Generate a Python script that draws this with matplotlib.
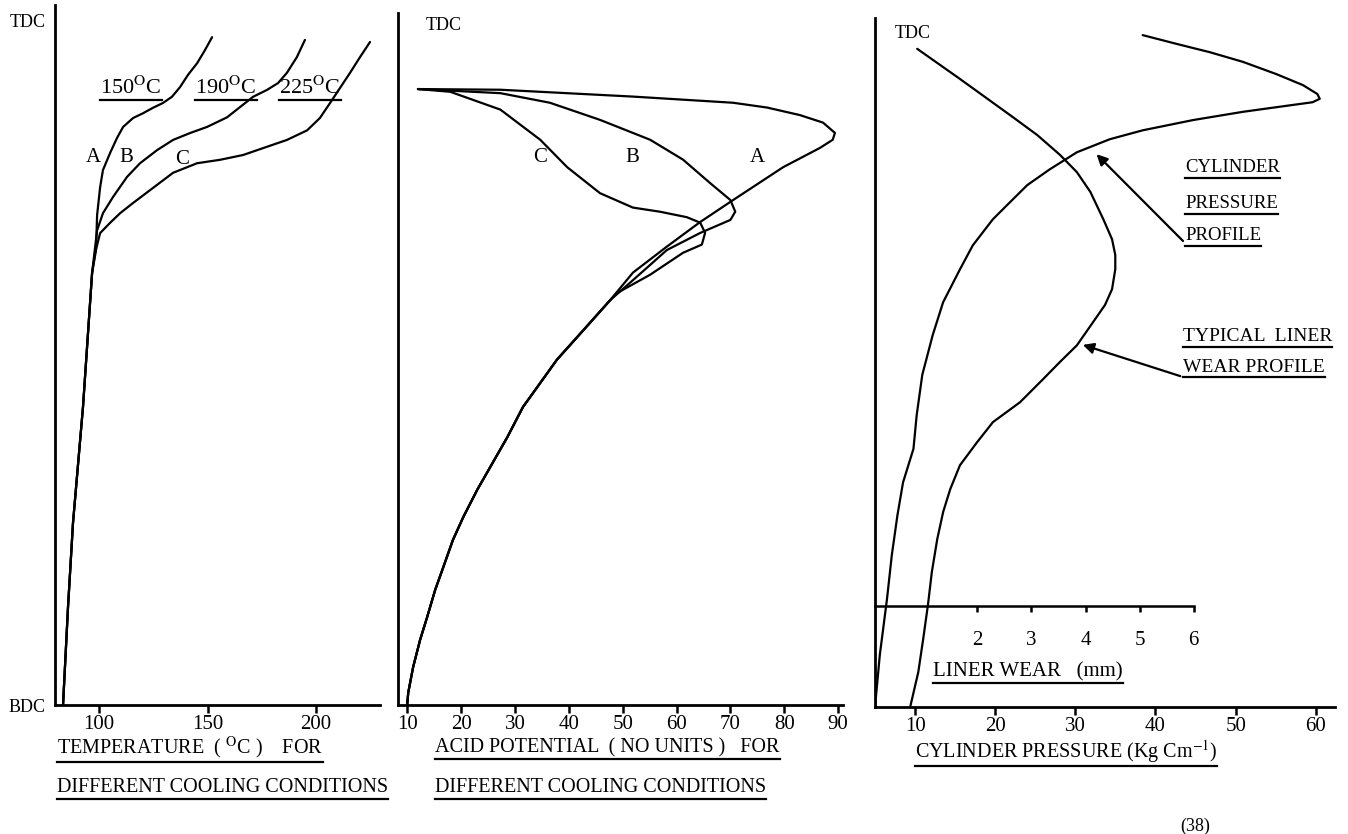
import matplotlib
matplotlib.use("Agg")
import matplotlib.pyplot as plt
from matplotlib.lines import Line2D

plt.rcParams['font.family'] = ['Liberation Serif', 'DejaVu Serif']
plt.rcParams['mathtext.fontset'] = 'stix'

# ---- panel 1: temperature, y = 0 (BDC) .. 1 (TDC)
temp_trunk_x = [83.4, 85.7, 88.0, 92.6, 96.8]
temp_trunk_y = [0.000, 0.143, 0.266, 0.435, 0.631]
temp_a_x = [98.6, 99.1, 100.5, 101.8, 105.1, 108.3, 111.1, 115.7, 120.3, 124.9, 129.5,
            133.6, 137.3, 141.0, 145.2, 148.8, 152.1]
temp_a_y = [0.664, 0.715, 0.756, 0.781, 0.806, 0.828, 0.844, 0.857, 0.864, 0.872, 0.879,
            0.888, 0.902, 0.920, 0.937, 0.956, 0.975]
temp_b_x = [99.1, 101.8, 106.5, 112.9, 118.9, 126.7, 134.1, 141.9, 149.8, 159.0, 165.0,
            171.0, 177.4, 182.5, 186.6, 191.2, 194.9]
temp_b_y = [0.693, 0.718, 0.742, 0.771, 0.791, 0.810, 0.825, 0.835, 0.844, 0.858, 0.873,
            0.888, 0.898, 0.908, 0.923, 0.946, 0.971]
temp_c_x = [98.2, 100.5, 105.1, 109.7, 115.7, 124.9, 134.1, 145.2, 155.8, 166.4, 177.4,
            186.6, 195.9, 201.8, 206.5, 211.1, 215.7, 220.3, 224.9]
temp_c_y = [0.660, 0.689, 0.704, 0.718, 0.733, 0.755, 0.777, 0.791, 0.796, 0.803, 0.815,
            0.825, 0.839, 0.857, 0.879, 0.901, 0.923, 0.946, 0.968]
temp_ticks = [100, 150, 200]

# ---- panel 2: acid potential
acid_trunk_x = [10.0, 10.2, 11.1, 12.4, 13.7, 15.2, 16.7, 18.5, 20.4, 23.0, 25.4, 28.6,
                31.5, 34.7, 37.8, 42.7, 47.7]
acid_trunk_y = [0.000, 0.018, 0.055, 0.095, 0.128, 0.168, 0.201, 0.241, 0.274, 0.314, 0.347, 0.391,
                0.435, 0.470, 0.504, 0.547, 0.591]
acid_a_x = [51.9, 58.2, 64.4, 70.5, 79.8, 86.6, 89.0, 89.4, 87.2, 82.9, 76.8, 70.5, 51.9, 27.3, 12.0]
acid_a_y = [0.631, 0.669, 0.705, 0.737, 0.785, 0.813, 0.825, 0.835, 0.850, 0.861, 0.872, 0.879, 0.888, 0.898, 0.899]
acid_b_x = [51.9, 58.2, 64.4, 70.0, 70.9, 70.0, 66.2, 61.2, 55.1, 45.8, 36.5, 27.3, 12.0]
acid_b_y = [0.620, 0.664, 0.689, 0.708, 0.720, 0.737, 0.762, 0.796, 0.825, 0.854, 0.879, 0.893, 0.899]
acid_c_x = [48.9, 55.1, 61.2, 64.7, 65.3, 64.4, 61.9, 56.9, 51.9, 45.8, 39.7, 34.7, 27.3, 18.0, 12.0]
acid_c_y = [0.601, 0.628, 0.660, 0.672, 0.689, 0.704, 0.712, 0.720, 0.726, 0.747, 0.785, 0.825, 0.869, 0.895, 0.899]
acid_ticks = [10, 20, 30, 40, 50, 60, 70, 80, 90]

# ---- panel 3: cylinder pressure and liner wear
pressure_x = [38.4, 42.7, 46.8, 50.9, 55.1, 58.4, 60.2, 60.5, 59.6, 57.1, 50.9, 44.7, 38.4,
              34.3, 30.2, 26.8, 24.0, 21.5, 19.7, 17.2, 15.6, 13.5, 12.2, 10.9, 10.2, 9.8,
              8.5, 7.8, 7.1, 6.5, 5.6, 5.0]
pressure_y = [0.981, 0.968, 0.956, 0.942, 0.924, 0.908, 0.895, 0.888, 0.883, 0.879, 0.869, 0.857, 0.842,
              0.829, 0.810, 0.785, 0.762, 0.733, 0.712, 0.674, 0.639, 0.591, 0.543, 0.485, 0.426, 0.377,
              0.328, 0.280, 0.222, 0.158, 0.076, 0.0]
wear_x = [0.89, 1.68, 2.61, 3.11, 3.53, 3.84, 4.09, 4.33, 4.49, 4.55, 4.55, 4.49, 4.36, 4.14,
          3.84, 3.53, 3.22, 2.79, 2.29, 2.00, 1.68, 1.50, 1.37, 1.26, 1.16, 1.09, 1.00, 0.91, 0.76]
wear_y = [0.961, 0.917, 0.864, 0.835, 0.806, 0.781, 0.752, 0.712, 0.683, 0.660, 0.639, 0.610, 0.587, 0.562,
          0.528, 0.504, 0.479, 0.445, 0.416, 0.387, 0.353, 0.318, 0.285, 0.245, 0.197, 0.150, 0.099, 0.051, 0.0]
pressure_ticks = [10, 20, 30, 40, 50, 60]
wear_ticks = [2, 3, 4, 5, 6]
wear_axis_y = 0.147

W, H = 1348, 834
fig = plt.figure(figsize=(W / 100, H / 100), dpi=100)


def px_axes(x0, x1, top, bottom):
    return fig.add_axes([x0 / W, 1 - bottom / H, (x1 - x0) / W, (bottom - top) / H])


def ftext(x, y, s, size=14, **kw):
    kw.setdefault('va', 'center')
    kw.setdefault('ha', 'left')
    return fig.text(x / W, 1 - y / H, s, fontsize=size, **kw)


def style(ax, xlim, ylim, ticks):
    ax.set_xlim(*xlim)
    ax.set_ylim(*ylim)
    for s in ['top', 'right']:
        ax.spines[s].set_visible(False)
    for s in ['left', 'bottom']:
        ax.spines[s].set_linewidth(2.0)
    ax.set_xticks(ticks)
    ax.tick_params(axis='x', direction='out', length=6, width=1.8, pad=1, labelsize=15)
    ax.set_yticks([])


LW = 1.6
kw = dict(color='black', lw=LW, solid_joinstyle='round', solid_capstyle='round')

# panel 1
ax1 = px_axes(55, 380, 5, 705)
style(ax1, (79.7, 229.5), (0, 1.022), temp_ticks)
for cx, cy in [(temp_a_x, temp_a_y), (temp_b_x, temp_b_y), (temp_c_x, temp_c_y)]:
    ax1.plot(temp_trunk_x + cx, temp_trunk_y + cy, **kw)
ax1.set_yticks([0, 1])
ax1.set_yticklabels(['BDC', 'TDC'])
ax1.tick_params(axis='y', length=0, pad=7, labelsize=13)

# panel 2
ax2 = px_axes(398, 843, 13, 705)
style(ax2, (8.3, 90.9), (0, 1.010), acid_ticks)
for cx, cy in [(acid_a_x, acid_a_y), (acid_b_x, acid_b_y), (acid_c_x, acid_c_y)]:
    ax2.plot(acid_trunk_x + cx, acid_trunk_y + cy, **kw)

# panel 3
ax3 = px_axes(875, 1335, 18, 707)
style(ax3, (5.0, 62.4), (0, 1.006), pressure_ticks)
ax3.plot(pressure_x, pressure_y, **kw)

ax3w = ax3.twiny()
ax3w.set_xlim(0.11, 8.61)
for s in ['top', 'right', 'left']:
    ax3w.spines[s].set_visible(False)
ax3w.spines['bottom'].set_visible(True)
ax3w.spines['bottom'].set_position(('data', wear_axis_y))
ax3w.spines['bottom'].set_bounds(0.11, 6.0)
ax3w.spines['bottom'].set_linewidth(1.8)
ax3w.xaxis.set_ticks_position('bottom')
ax3w.set_xticks(wear_ticks)
ax3w.tick_params(axis='x', direction='out', length=4, width=1.8, pad=14, labelsize=15)
ax3w.plot(wear_x, wear_y, **kw)

# arrows to the curves
ax3.annotate('', xy=(32.4, 0.810), xycoords='data',
             xytext=(1185 / W, 1 - 243 / H), textcoords='figure fraction',
             arrowprops=dict(arrowstyle='-|>', color='black', lw=1.6, mutation_scale=16))
ax3.annotate('', xy=(30.6, 0.530), xycoords='data',
             xytext=(1183 / W, 1 - 377 / H), textcoords='figure fraction',
             arrowprops=dict(arrowstyle='-|>', color='black', lw=1.6, mutation_scale=16))

# text labels
under = []
under.append(ftext(100, 88, '150$^{\\mathrm{O}}$C', 16))
under.append(ftext(195, 88, '190$^{\\mathrm{O}}$C', 16))
under.append(ftext(279, 88, '225$^{\\mathrm{O}}$C', 16))
ftext(93, 157, 'A', 15, ha='center')
ftext(126, 157, 'B', 15, ha='center')
ftext(182, 160, 'C', 15, ha='center')

ftext(444, 25, 'TDC', 13, ha='center')
ftext(540, 158, 'C', 15, ha='center')
ftext(632, 158, 'B', 15, ha='center')
ftext(757, 158, 'A', 15, ha='center')

ftext(913, 33, 'TDC', 13, ha='center')
under.append(ftext(1185, 168, 'CYLINDER', 13.5))
under.append(ftext(1185, 204, 'PRESSURE', 13.5))
under.append(ftext(1185, 236, 'PROFILE', 13.5))
under.append(ftext(1183, 337, 'TYPICAL  LINER', 14))
under.append(ftext(1183, 368, 'WEAR PROFILE', 14))
under.append(ftext(933, 672, 'LINER WEAR   (mm)', 15))

under.append(ftext(57, 748, 'TEMPERATURE  ( $^{\\mathrm{O}}$C )    FOR', 14.5))
under.append(ftext(57, 788, 'DIFFERENT COOLING CONDITIONS', 14.5))
under.append(ftext(435, 748, 'ACID POTENTIAL  ( NO UNITS )   FOR', 14.5))
under.append(ftext(435, 788, 'DIFFERENT COOLING CONDITIONS', 14.5))
under.append(ftext(915, 752, 'CYLINDER PRESSURE (Kg Cm$^{-1}$)', 14.5))
ftext(1180, 826, '(38)', 13)

fig.canvas.draw()
r = fig.canvas.get_renderer()
for t in under:
    bb = t.get_window_extent(renderer=r)
    y = bb.y0 - 1
    fig.add_artist(Line2D([bb.x0 / W, bb.x1 / W], [y / H, y / H], color='black', lw=1.6,
                          transform=fig.transFigure))

fig.savefig('out.png', dpi=100)
